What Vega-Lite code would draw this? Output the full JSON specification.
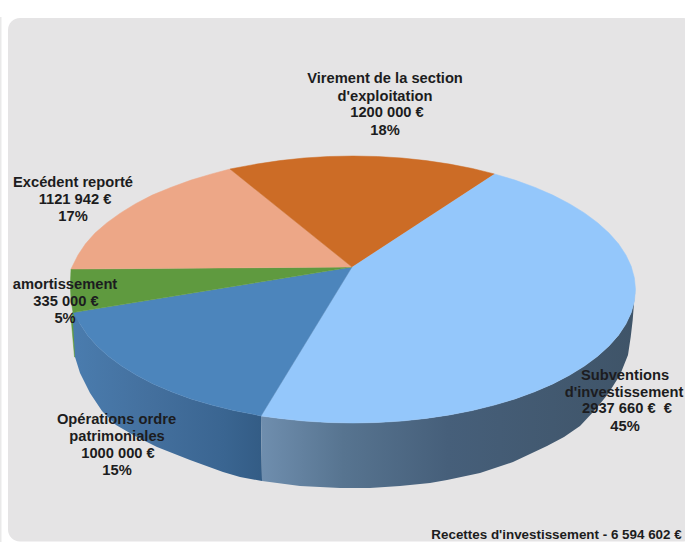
{"$schema":"https://vega.github.io/schema/vega-lite/v6.json","width":685,"height":542,"padding":0,"autosize":{"type":"none"},"background":"#ffffff","config":{"view":{"stroke":null}},
"datasets":{
"panel":[{"x":8,"x2":695,"y":18,"y2":541.5}],
"strip":[{"x":0,"x2":1.5,"y":17,"y2":542}],
"greenWall":[{"x":72.5,"y":312},{"x":71.5,"y":323},{"x":74.5,"y":357},{"x":78,"y":357},{"x":76,"y":312}],
"blueWall":[{"x":261,"y":416},{"x":256.4,"y":414.9},{"x":233.6,"y":410.5},{"x":211.7,"y":405.1},{"x":191,"y":398.9},{"x":171.4,"y":391.8},{"x":153.2,"y":383.9},{"x":136.6,"y":375.3},{"x":121.6,"y":366.1},{"x":108.4,"y":356.3},{"x":97,"y":345.9},{"x":87.5,"y":335.2},{"x":80.1,"y":324.1},{"x":74.8,"y":312.7},{"x":73,"y":323},{"x":75,"y":357},{"x":80,"y":373},{"x":90,"y":393},{"x":102,"y":411},{"x":116,"y":425},{"x":135,"y":436},{"x":157,"y":447},{"x":190,"y":460},{"x":223,"y":472},{"x":240,"y":477},{"x":262,"y":481}],
"lightWall":[{"x":635.5,"y":289.5},{"x":634.4,"y":301.1},{"x":631.2,"y":312.7},{"x":625.9,"y":324.1},{"x":618.5,"y":335.2},{"x":609,"y":345.9},{"x":597.6,"y":356.3},{"x":584.4,"y":366.1},{"x":569.4,"y":375.3},{"x":552.8,"y":383.9},{"x":534.6,"y":391.8},{"x":515,"y":398.9},{"x":494.3,"y":405.1},{"x":472.4,"y":410.5},{"x":449.6,"y":414.9},{"x":426.1,"y":418.4},{"x":402,"y":421},{"x":377.6,"y":422.5},{"x":353,"y":423},{"x":328.4,"y":422.5},{"x":304,"y":421},{"x":279.9,"y":418.4},{"x":261,"y":416},{"x":262,"y":481},{"x":300,"y":486},{"x":340,"y":488},{"x":370,"y":488},{"x":400,"y":486},{"x":430,"y":483},{"x":447,"y":480},{"x":480,"y":473},{"x":513,"y":462},{"x":530,"y":454},{"x":547,"y":446},{"x":564,"y":437},{"x":580,"y":426},{"x":595,"y":410},{"x":608,"y":394},{"x":620,"y":375},{"x":628,"y":355},{"x":630.7,"y":337},{"x":632.7,"y":320},{"x":634,"y":303}],
"lightTop":[{"x":352,"y":267},{"x":494.3,"y":173.9},{"x":515,"y":180.1},{"x":534.6,"y":187.2},{"x":552.8,"y":195.1},{"x":569.4,"y":203.7},{"x":584.4,"y":212.9},{"x":597.6,"y":222.7},{"x":609,"y":233.1},{"x":618.5,"y":243.8},{"x":625.9,"y":254.9},{"x":631.2,"y":266.3},{"x":634.4,"y":277.9},{"x":635.5,"y":289.5},{"x":634.4,"y":301.1},{"x":631.2,"y":312.7},{"x":625.9,"y":324.1},{"x":618.5,"y":335.2},{"x":609,"y":345.9},{"x":597.6,"y":356.3},{"x":584.4,"y":366.1},{"x":569.4,"y":375.3},{"x":552.8,"y":383.9},{"x":534.6,"y":391.8},{"x":515,"y":398.9},{"x":494.3,"y":405.1},{"x":472.4,"y":410.5},{"x":449.6,"y":414.9},{"x":426.1,"y":418.4},{"x":402,"y":421},{"x":377.6,"y":422.5},{"x":353,"y":423},{"x":328.4,"y":422.5},{"x":304,"y":421},{"x":279.9,"y":418.4},{"x":261,"y":416}],
"blueTop":[{"x":352,"y":267},{"x":261,"y":416},{"x":256.4,"y":414.9},{"x":233.6,"y":410.5},{"x":211.7,"y":405.1},{"x":191,"y":398.9},{"x":171.4,"y":391.8},{"x":153.2,"y":383.9},{"x":136.6,"y":375.3},{"x":121.6,"y":366.1},{"x":108.4,"y":356.3},{"x":97,"y":345.9},{"x":87.5,"y":335.2},{"x":80.1,"y":324.1},{"x":73,"y":312.5}],
"greenTop":[{"x":352,"y":267},{"x":73,"y":312.5},{"x":71,"y":300},{"x":70.5,"y":289.5},{"x":70.5,"y":280},{"x":71,"y":269}],
"salmonTop":[{"x":352,"y":267},{"x":71,"y":269},{"x":78,"y":255},{"x":85.5,"y":243.8},{"x":95,"y":233.1},{"x":107,"y":222.7},{"x":120.6,"y":212.9},{"x":135.6,"y":203.7},{"x":152.2,"y":195.1},{"x":171.4,"y":187.2},{"x":191,"y":180.1},{"x":211.7,"y":173.9},{"x":230,"y":169}],
"orangeTop":[{"x":352,"y":267},{"x":230,"y":169},{"x":256.4,"y":164.1},{"x":279.9,"y":160.6},{"x":304,"y":158},{"x":328.4,"y":156.5},{"x":353,"y":156},{"x":377.6,"y":156.5},{"x":402,"y":158},{"x":426.1,"y":160.6},{"x":449.6,"y":164.1},{"x":472.4,"y":168.5},{"x":494.3,"y":173.9}],
"labels":[
{"x":385,"y":78,"t":"Virement de la section"},{"x":385,"y":95.5,"t":"d'exploitation"},{"x":387,"y":112,"t":"1200 000 €"},{"x":385,"y":130,"t":"18%"},
{"x":73,"y":182,"t":"Excédent reporté"},{"x":75,"y":199,"t":"1121 942 €"},{"x":73,"y":215.5,"t":"17%"},
{"x":65,"y":284,"t":"amortissement"},{"x":66,"y":301,"t":"335 000 €"},{"x":65,"y":318,"t":"5%"},
{"x":116.5,"y":419,"t":"Opérations ordre"},{"x":117,"y":436,"t":"patrimoniales"},{"x":118,"y":453,"t":"1000 000 €"},{"x":117,"y":470,"t":"15%"},
{"x":625,"y":375,"t":"Subventions"},{"x":624,"y":392,"t":"d'investissement"},{"x":627,"y":408,"t":"2937 660 € \u00a0€"},{"x":625,"y":426,"t":"45%"}],
"footer":[{"x":556.5,"y":534,"t":"Recettes d'investissement - 6 594 602 €"}]
},
"layer":[
{"data":{"name":"strip"},"mark":{"type":"rect","fill":"#e9e9e9"},"encoding":{"x":{"field":"x","type":"quantitative","scale":{"domain":[0,685],"nice":false,"zero":false},"axis":null},"x2":{"field":"x2"},"y":{"field":"y","type":"quantitative","scale":{"domain":[542,0],"nice":false,"zero":false},"axis":null},"y2":{"field":"y2"}}},
{"data":{"name":"panel"},"mark":{"type":"rect","fill":"#e5e4e5","cornerRadius":12},"encoding":{"x":{"field":"x","type":"quantitative","axis":null},"x2":{"field":"x2"},"y":{"field":"y","type":"quantitative","axis":null},"y2":{"field":"y2"}}},
{"data":{"name":"greenWall"},"mark":{"type":"line","fill":"#5f9a3f","stroke":"#5f9a3f","strokeWidth":0.5},"encoding":{"x":{"field":"x","type":"quantitative","axis":null},"y":{"field":"y","type":"quantitative","axis":null},"order":{"value":null}}},
{"data":{"name":"blueWall"},"mark":{"type":"line","strokeOpacity":0,"fill":{"gradient":"linear","x1":0,"x2":1,"y1":0,"y2":0,"stops":[{"offset":0,"color":"#4a7cae"},{"offset":0.4,"color":"#44709e"},{"offset":0.8,"color":"#3a6591"},{"offset":1,"color":"#335c85"}]}},"encoding":{"x":{"field":"x","type":"quantitative","axis":null},"y":{"field":"y","type":"quantitative","axis":null},"order":{"value":null}}},
{"data":{"name":"lightWall"},"mark":{"type":"line","strokeOpacity":0,"fill":{"gradient":"linear","x1":0,"x2":1,"y1":0,"y2":0,"stops":[{"offset":0,"color":"#6f8eae"},{"offset":0.22,"color":"#577490"},{"offset":0.5,"color":"#465f7a"},{"offset":1,"color":"#3f5468"}]}},"encoding":{"x":{"field":"x","type":"quantitative","axis":null},"y":{"field":"y","type":"quantitative","axis":null},"order":{"value":null}}},
{"data":{"name":"lightTop"},"mark":{"type":"line","fill":"#94c7fb","stroke":"#94c7fb","strokeWidth":0.5},"encoding":{"x":{"field":"x","type":"quantitative","axis":null},"y":{"field":"y","type":"quantitative","axis":null},"order":{"value":null}}},
{"data":{"name":"blueTop"},"mark":{"type":"line","fill":"#4c85bc","stroke":"#4c85bc","strokeWidth":0.5},"encoding":{"x":{"field":"x","type":"quantitative","axis":null},"y":{"field":"y","type":"quantitative","axis":null},"order":{"value":null}}},
{"data":{"name":"greenTop"},"mark":{"type":"line","fill":"#5f9a3f","stroke":"#5f9a3f","strokeWidth":0.5},"encoding":{"x":{"field":"x","type":"quantitative","axis":null},"y":{"field":"y","type":"quantitative","axis":null},"order":{"value":null}}},
{"data":{"name":"salmonTop"},"mark":{"type":"line","fill":"#eda787","stroke":"#eda787","strokeWidth":0.5},"encoding":{"x":{"field":"x","type":"quantitative","axis":null},"y":{"field":"y","type":"quantitative","axis":null},"order":{"value":null}}},
{"data":{"name":"orangeTop"},"mark":{"type":"line","fill":"#cc6c26","stroke":"#cc6c26","strokeWidth":0.5},"encoding":{"x":{"field":"x","type":"quantitative","axis":null},"y":{"field":"y","type":"quantitative","axis":null},"order":{"value":null}}},
{"data":{"name":"labels"},"mark":{"type":"text","font":"Liberation Sans","fontWeight":"bold","fontSize":14.7,"align":"center","baseline":"middle","dy":1,"fill":"#1c1c20"},"encoding":{"x":{"field":"x","type":"quantitative","axis":null},"y":{"field":"y","type":"quantitative","axis":null},"text":{"field":"t"}}},
{"data":{"name":"footer"},"mark":{"type":"text","font":"Liberation Sans","fontWeight":"bold","fontSize":13.4,"align":"center","baseline":"middle","dy":1,"fill":"#1c1c20"},"encoding":{"x":{"field":"x","type":"quantitative","axis":null},"y":{"field":"y","type":"quantitative","axis":null},"text":{"field":"t"}}}
]}
